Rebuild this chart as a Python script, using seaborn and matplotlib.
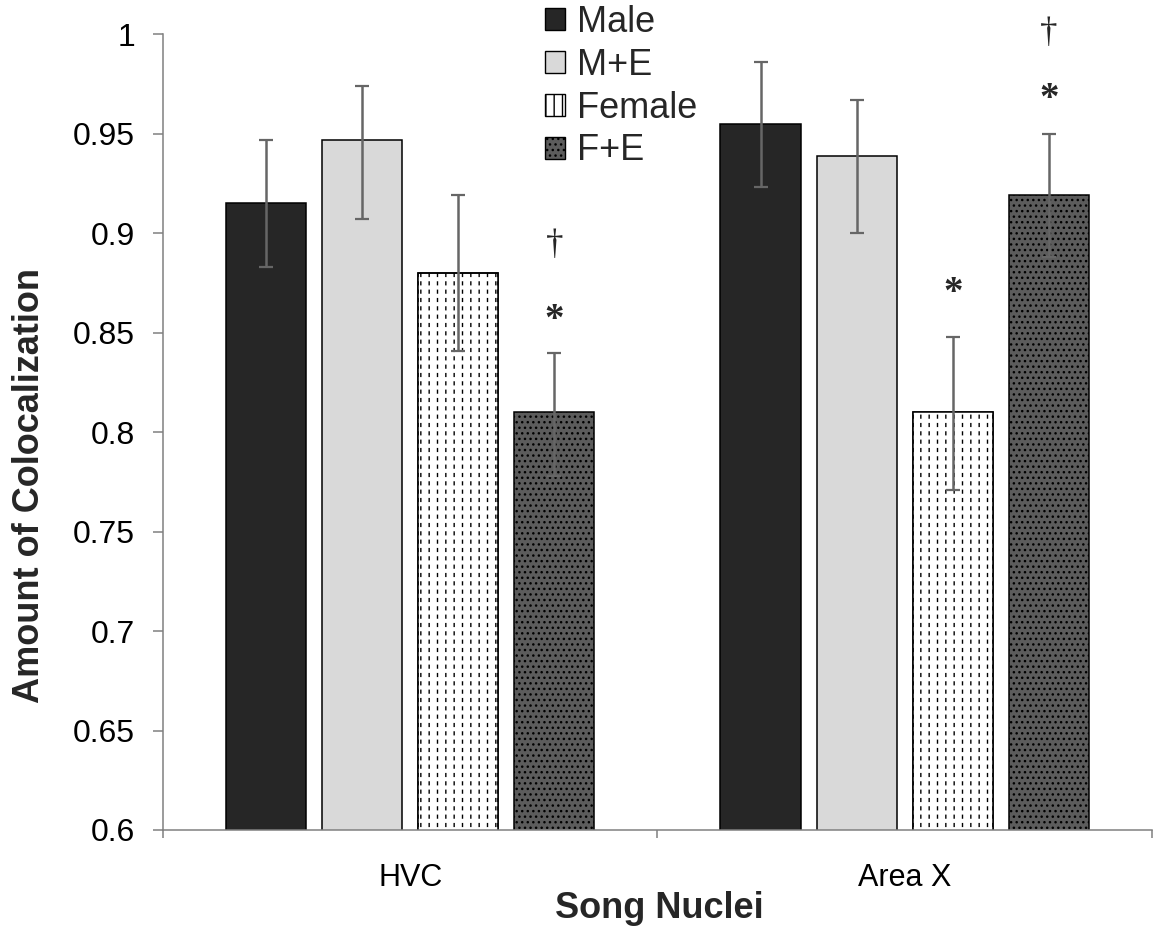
import numpy as np
import pandas as pd
import seaborn as sns
import matplotlib.pyplot as plt
from matplotlib.patches import Patch, Rectangle

# data
nuclei = ["HVC", "Area X"]
groups = ["Male", "M+E", "Female", "F+E"]
hvc_mean = [0.915, 0.947, 0.880, 0.810]
hvc_err_low = [0.032, 0.040, 0.039, 0.032]
hvc_err_high = [0.032, 0.027, 0.039, 0.030]
areax_mean = [0.955, 0.939, 0.810, 0.919]
areax_err_low = [0.032, 0.039, 0.039, 0.031]
areax_err_high = [0.031, 0.028, 0.038, 0.031]
yticks = np.round(np.arange(0.6, 1.0001, 0.05), 2)

# significance marks: (nucleus, group, symbol, offset above error cap in pt)
marks = [
    ("HVC", "F+E", "*", 23),
    ("HVC", "F+E", "\u2020", 77),
    ("Area X", "Female", "*", 31),
    ("Area X", "F+E", "*", 24.5),
    ("Area X", "F+E", "\u2020", 72),
]

colors = {"Male": "#262626", "M+E": "#d9d9d9", "Female": "#ffffff", "F+E": "#5c5c5c"}
hatches = {"Male": "", "M+E": "", "Female": "||", "F+E": "..."}

df = pd.DataFrame({
    "nucleus": np.repeat(nuclei, len(groups)),
    "group": groups * len(nuclei),
    "value": hvc_mean + areax_mean,
    "err_low": hvc_err_low + areax_err_low,
    "err_high": hvc_err_high + areax_err_high,
})

sns.set_theme(style="white")
plt.rcParams["font.family"] = ["Liberation Sans", "DejaVu Sans"]

fig = plt.figure(figsize=(11.54, 9.26), dpi=100)
ax = fig.add_axes([0.1412, 0.1037, 0.857, 0.8593])

sns.barplot(data=df, x="nucleus", y="value", hue="group", order=nuclei,
            hue_order=groups, palette=colors, width=0.777, gap=0.165,
            errorbar=None, edgecolor="black", linewidth=1.1, saturation=1,
            legend=False, ax=ax)

# bars sorted left to right follow the dataframe order
bars = sorted(ax.patches, key=lambda p: p.get_x())
xs = []
for b, row in zip(bars, df.itertuples()):
    xs.append(b.get_x() + b.get_width() / 2)
    b.set_hatch(hatches[row.group])
    if row.group == "Female":
        # white horizontal hatch breaks the vertical lines into dashes
        with plt.rc_context({"hatch.linewidth": 3.0}):
            cover = Rectangle((b.get_x(), b.get_y()), b.get_width(), b.get_height(),
                              facecolor="none", edgecolor="white", lw=0, hatch="--",
                              zorder=b.get_zorder() + 0.1)
        ax.add_patch(cover)
        outline = Rectangle((b.get_x(), b.get_y()), b.get_width(), b.get_height(),
                            facecolor="none", edgecolor="black", lw=1.1,
                            zorder=b.get_zorder() + 0.2)
        ax.add_patch(outline)

eb = ax.errorbar(xs, df["value"], yerr=[df["err_low"], df["err_high"]], fmt="none",
                 ecolor="#666666", elinewidth=1.8, capsize=4.7, capthick=1.6, zorder=5)
for cl in eb[1]:
    cl.set_color("#1a1a1a")

keys = list(zip(df["nucleus"], df["group"]))
tops = dict(zip(keys, df["value"] + df["err_high"]))
xpos = dict(zip(keys, xs))
for nuc, grp, sym, off in marks:
    bold = sym == "*"
    ax.annotate(sym, xy=(xpos[(nuc, grp)], tops[(nuc, grp)]), xytext=(0, off),
                textcoords="offset points", ha="center", va="center",
                fontsize=28 if bold else 25, fontweight="bold" if bold else "normal",
                family=["Liberation Serif", "DejaVu Serif"], annotation_clip=False)

ax.set_xlim(-0.5, 1.5)
ax.set_ylim(0.6, 1.0)
ax.set_yticks(yticks)
ax.set_yticklabels([f"{t:g}" for t in yticks])
ax.set_xticks([-0.5, 0.5, 1.5])
ax.set_xticklabels([])
ax.set_xticks([0, 1], minor=True)
ax.set_xticklabels(nuclei, minor=True)
ax.set_xlabel("")
ax.set_ylabel("")

sns.despine(ax=ax)
for s in ["left", "bottom"]:
    ax.spines[s].set_color("#808080")
    ax.spines[s].set_linewidth(1.1)
ax.tick_params(axis="y", left=True, direction="out", length=7.2, width=1.1,
               color="#808080", pad=13, labelsize=23, labelcolor="black")
ax.tick_params(axis="x", which="major", bottom=True, direction="out", length=6,
               width=1.1, color="#808080")
ax.tick_params(axis="x", which="minor", bottom=True, length=0, pad=24,
               labelsize=22, labelcolor="black")

fig.text(30 / 1154, 0.476, "Amount of Colocalization", rotation=90, ha="center",
         va="center", fontsize=26, fontweight="bold")
fig.text(0.571, 0.009, "Song Nuclei", ha="center", va="baseline", fontsize=26,
         fontweight="bold")

handles = [Patch(facecolor=colors[g], edgecolor="black", hatch=hatches[g], lw=1.0)
           for g in groups]
fig.legend(handles, groups, loc="upper left", bbox_to_anchor=(545 / 1154, 0.995),
           frameon=False, fontsize=26, handlelength=0.55, handleheight=0.55,
           handletextpad=0.33, labelspacing=0.22, borderpad=0, borderaxespad=0)

fig.savefig("out.png", dpi=100)
